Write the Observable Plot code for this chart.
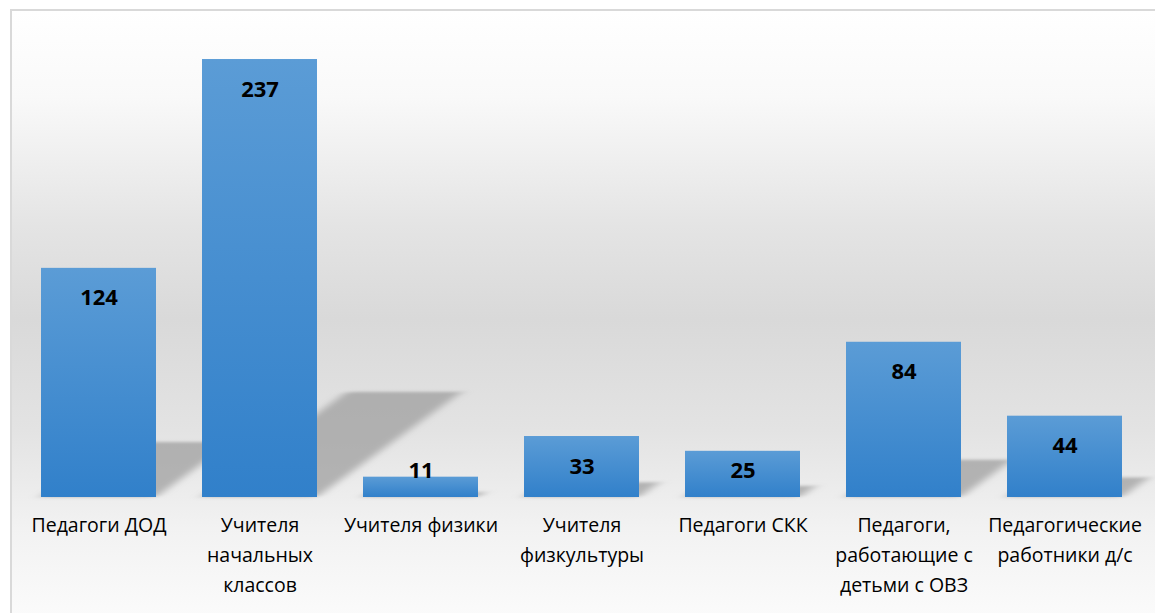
<!DOCTYPE html>
<html>
<head>
<meta charset="utf-8">
<script src="https://cdn.jsdelivr.net/npm/d3@7"></script>
<script src="https://cdn.jsdelivr.net/npm/@observablehq/plot@0.6"></script>
<style>
  html, body { margin: 0; padding: 0; background: #ffffff; overflow: hidden; }
  #wrap { position: relative; width: 1155px; height: 613px; overflow: hidden; }
  #frame {
    position: absolute; left: 10px; top: 9px; width: 1160px; height: 620px;
    border: 2px solid #d9d9d9; box-sizing: border-box;
    background: linear-gradient(to bottom, #ffffff 0%, #f9f9f9 14%, #e4e4e4 35%, #d9d9d9 50%, #e3e3e3 68%, #f2f2f2 84%, #fcfcfc 100%);
  }
  #chart { position: absolute; left: 0; top: 0; }
</style>
</head>
<body>
<div id="wrap"><div id="frame"></div><div id="chart"></div></div>
<script>
const categories = [
  "Педагоги ДОД",
  "Учителя начальных классов",
  "Учителя физики",
  "Учителя физкультуры",
  "Педагоги СКК",
  "Педагоги, работающие с детьми с ОВЗ",
  "Педагогические работники д/с"
];
const tickLabels = [
  "Педагоги ДОД",
  "Учителя\nначальных\nклассов",
  "Учителя физики",
  "Учителя\nфизкультуры",
  "Педагоги СКК",
  "Педагоги,\nработающие с\nдетьми с ОВЗ",
  "Педагогические\nработники д/с"
];
const values = [124, 237, 11, 33, 25, 84, 44];

const data = categories.map((c, i) => ({category: c, value: values[i], label: tickLabels[i]}));
const labelMap = new Map(data.map(d => [d.category, d.label]));

const plot = Plot.plot({
  width: 1155,
  height: 613,
  marginLeft: 18,
  marginRight: 10,
  marginTop: 35,
  marginBottom: 116,
  style: {background: "transparent", fontFamily: "'Open Sans', sans-serif"},
  x: {domain: categories, paddingInner: 0.286, paddingOuter: 0.143, align: 0.5},
  y: {domain: [0, 250], axis: null},
  marks: [
    Plot.barY(data, {x: "category", y: "value", fill: "#9a9a9a", fillOpacity: 0.7}),
    Plot.barY(data, {x: "category", y: "value", fill: "#4a8fd4"}),
    Plot.text(data, {
      x: "category",
      y: d => Math.max(d.value - 16.2, 14.6),
      text: d => String(d.value),
      fontWeight: "bold",
      fontSize: 22,
      fill: "#000000"
    }),
    Plot.axisX({
      tickSize: 0,
      tickPadding: 13,
      fontSize: 19.5,
      lineHeight: 1.54,
      tickFormat: d => labelMap.get(d),
      fill: "#000000",
      label: null
    })
  ]
});

const svg = plot;
const ns = "http://www.w3.org/2000/svg";
const defs = document.createElementNS(ns, "defs");
defs.innerHTML = `
  <linearGradient id="barGrad" x1="0" y1="0" x2="0" y2="1">
    <stop offset="0%" stop-color="#5b9cd6"/>
    <stop offset="100%" stop-color="#3180ca"/>
  </linearGradient>
  <filter id="shadowBlur" x="-30%" y="-30%" width="160%" height="160%">
    <feGaussianBlur stdDeviation="6"/>
  </filter>`;
svg.insertBefore(defs, svg.firstChild);

const bars = svg.querySelectorAll('g[aria-label="bar"]');
const y0 = plot.scale("y").apply(0);
const k = 0.24, s = 0.33;
if (bars.length >= 2) {
  const sh = bars[0];
  sh.setAttribute("transform", `matrix(1,0,${-s},${k},${s * y0},${y0 - k * y0})`);
  sh.setAttribute("filter", "url(#shadowBlur)");
  bars[1].setAttribute("fill", "url(#barGrad)");
}

document.getElementById("chart").appendChild(svg);
</script>
</body>
</html>
